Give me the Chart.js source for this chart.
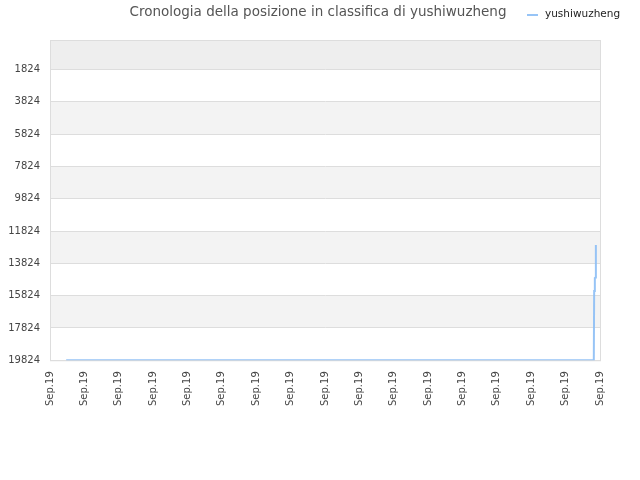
<!DOCTYPE html>
<html>
<head>
<meta charset="utf-8">
<script src="https://cdn.jsdelivr.net/npm/chart.js@4"></script>
<style>
  html, body { margin: 0; padding: 0; background: #fff; }
  #wrap { width: 640px; height: 480px; }
</style>
</head>
<body>
<div id="wrap"><canvas id="rank-chart"></canvas></div>
<script>
// Ranking timeline: flat at the bottom, jump at the very end
const TITLE = 'Cronologia della posizione in classifica di yushiwuzheng';
const SERIES_NAME = 'yushiwuzheng';
const X_TICK_LABEL = 'Sep.19';
const RANK_TICKS = [1824, 3824, 5824, 7824, 9824, 11824, 13824, 15824, 17824, 19824];
const POINT_X = [0.47, 15.82, 15.83, 15.85, 15.87, 15.88];
const POINT_RANK = [19824, 19824, 15540, 14735, 14700, 12690];

const LINE_COLOR = 'rgba(140, 190, 245, 0.9)';

// Alternating horizontal bands behind the plot, plus title and legend on one row
const bandPlugin = {
  id: 'bands',
  beforeDraw(chart) {
    const { ctx, chartArea: a, scales: { y } } = chart;
    const edges = [y.min, ...RANK_TICKS];
    ctx.save();
    for (let i = 0; i < edges.length - 1; i++) {
      const top = y.getPixelForValue(edges[i]);
      const bottom = y.getPixelForValue(edges[i + 1]);
      if (i === 0) ctx.fillStyle = '#eeeeee';
      else if (i % 2 === 0) ctx.fillStyle = '#f3f3f3';
      else ctx.fillStyle = '#ffffff';
      ctx.fillRect(a.left, top, a.right - a.left, bottom - top);
    }
    ctx.strokeStyle = '#dddddd';
    ctx.lineWidth = 1;
    ctx.strokeRect(a.left + 0.5, a.top + 0.5, a.right - a.left, a.bottom - a.top);
    ctx.restore();
  },
  afterDraw(chart) {
    const { ctx } = chart;
    ctx.save();
    ctx.font = '13.5px "DejaVu Sans", sans-serif';
    ctx.fillStyle = '#555555';
    ctx.textAlign = 'center';
    ctx.textBaseline = 'middle';
    ctx.fillText(TITLE, 318, 12);

    // legend: short line sample + series name
    ctx.strokeStyle = LINE_COLOR;
    ctx.lineWidth = 2;
    ctx.beginPath();
    ctx.moveTo(527, 15);
    ctx.lineTo(538, 15);
    ctx.stroke();
    ctx.font = '10.5px "DejaVu Sans", sans-serif';
    ctx.fillStyle = '#222222';
    ctx.textAlign = 'left';
    ctx.fillText(SERIES_NAME, 545, 14);
    ctx.restore();
  },
};

new Chart(document.getElementById('rank-chart'), {
  type: 'line',
  data: {
    datasets: [{
      label: SERIES_NAME,
      data: POINT_X.map((x, i) => ({ x, y: POINT_RANK[i] })),
      borderColor: LINE_COLOR,
      backgroundColor: LINE_COLOR,
      borderWidth: 2,
      pointRadius: 0,
      tension: 0,
      fill: false,
    }],
  },
  options: {
    responsive: true,
    maintainAspectRatio: false,
    animation: false,
    layout: { padding: { left: 0, right: 40, top: 40, bottom: 71 } },
    plugins: {
      title: { display: false },
      tooltip: { enabled: false },
      legend: { display: false },
    },
    scales: {
      x: {
        type: 'linear',
        min: 0,
        max: 16,
        grid: { display: false },
        border: { color: '#dddddd' },
        ticks: {
          stepSize: 1,
          maxRotation: 90,
          minRotation: 90,
          color: '#444',
          font: { family: 'DejaVu Sans', size: 10 },
          callback: () => X_TICK_LABEL,
        },
      },
      y: {
        reverse: true,
        min: 0,
        max: 19824,
        afterBuildTicks(axis) { axis.ticks = RANK_TICKS.map((v) => ({ value: v })); },
        afterFit(axis) { axis.width = 50; },
        grid: { color: '#dddddd', drawTicks: false },
        border: { color: '#dddddd' },
        ticks: {
          padding: 10,
          color: '#444',
          font: { family: 'DejaVu Sans', size: 10 },
          callback: (v) => String(v),
        },
      },
    },
  },
  plugins: [bandPlugin],
});
</script>
</body>
</html>
